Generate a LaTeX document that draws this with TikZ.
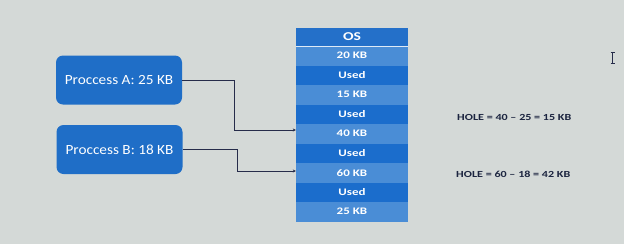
\documentclass[tikz,border=0pt]{standalone}
\usepackage{fontspec}
\setmainfont{Carlito}
\newfontfamily\labelfont[FakeStretch=1.3]{Carlito}
\newfontfamily\procfont[FakeStretch=1.09]{Carlito}
\usetikzlibrary{arrows.meta}
\definecolor{bgcol}{HTML}{D4D9D7}
\definecolor{headcol}{HTML}{2470C9}
\definecolor{freecol}{HTML}{4A8DD6}
\definecolor{usedcol}{HTML}{1B6DCC}
\definecolor{proccol}{HTML}{1F6EC7}
\definecolor{linecol}{HTML}{262C4A}
\definecolor{holecol}{HTML}{1C2540}
\tikzset{
  memrow/.style={minimum width=112pt, minimum height=19.5pt, inner sep=0pt,
    text=white, font=\labelfont\bfseries\fontsize{10}{11}\selectfont},
  freerow/.style={memrow, fill=freecol},
  usedrow/.style={memrow, fill=usedcol},
  oshead/.style={memrow, fill=headcol, minimum height=18pt,
    font=\labelfont\bfseries\fontsize{12}{13}\selectfont},
  procbox/.style={fill=proccol, rounded corners=7pt, text=white,
    minimum width=126pt, minimum height=49pt, inner sep=0pt,
    font=\procfont\fontsize{14}{15}\selectfont},
  conn/.style={draw=linecol, line width=0.9pt, -{Stealth[length=3pt,width=3pt]}},
  holetext/.style={anchor=west, text=holecol, inner sep=0pt,
    font=\labelfont\bfseries\fontsize{9.3}{10}\selectfont}
}
\begin{document}
\begin{tikzpicture}[x=1pt,y=-1pt]
  % canvas
  \fill[bgcol] (0,0) rectangle (624,244);
  \useasboundingbox (0,0) rectangle (624,244);

  % memory column
  \node[oshead]  (os) at (352,37)    {OS};
  \node[freerow] (r1) at (352,55.75) {20 KB};
  \node[usedrow] (r2) at (352,75.25) {Used};
  \node[freerow] (r3) at (352,94.75) {15 KB};
  \node[usedrow] (r4) at (352,114.25){Used};
  \node[freerow] (r5) at (352,133.75){40 KB};
  \node[usedrow] (r6) at (352,153.25){Used};
  \node[freerow] (r7) at (352,172.75){60 KB};
  \node[usedrow] (r8) at (352,192.25){Used};
  \node[freerow] (r9) at (352,211.75){25 KB};
  \draw[white!85!headcol, line width=0.8pt] (os.south west) -- (os.south east);

  % processes
  \node[procbox] (pA) at (119,80)  {Proccess A: 25 KB};
  \node[procbox] (pB) at (119.5,149.5) {Proccess B: 18 KB};

  % placements
  \coordinate (kA) at (234,130);
  \coordinate (kB) at (237,171);
  \draw[conn] (pA.east) -| (kA) -- (kA -| r5.west);
  \draw[conn] (pB.east) -| (kB) -- (kB -| r7.west);

  % holes left over
  \node[holetext] (hA) at (457,117) {HOLE = 40 – 25 = 15 KB};
  \node[holetext] (hB) at (456,174) {HOLE = 60 – 18 = 42 KB};

  % text cursor
  \draw[linecol, line width=0.9pt] (612.5,52.5) -- (612.5,63.5);
  \draw[linecol, line width=0.8pt] (610.5,52.5) -- (614.5,52.5)
                                   (610.5,63.5) -- (614.5,63.5);
\end{tikzpicture}
\end{document}
